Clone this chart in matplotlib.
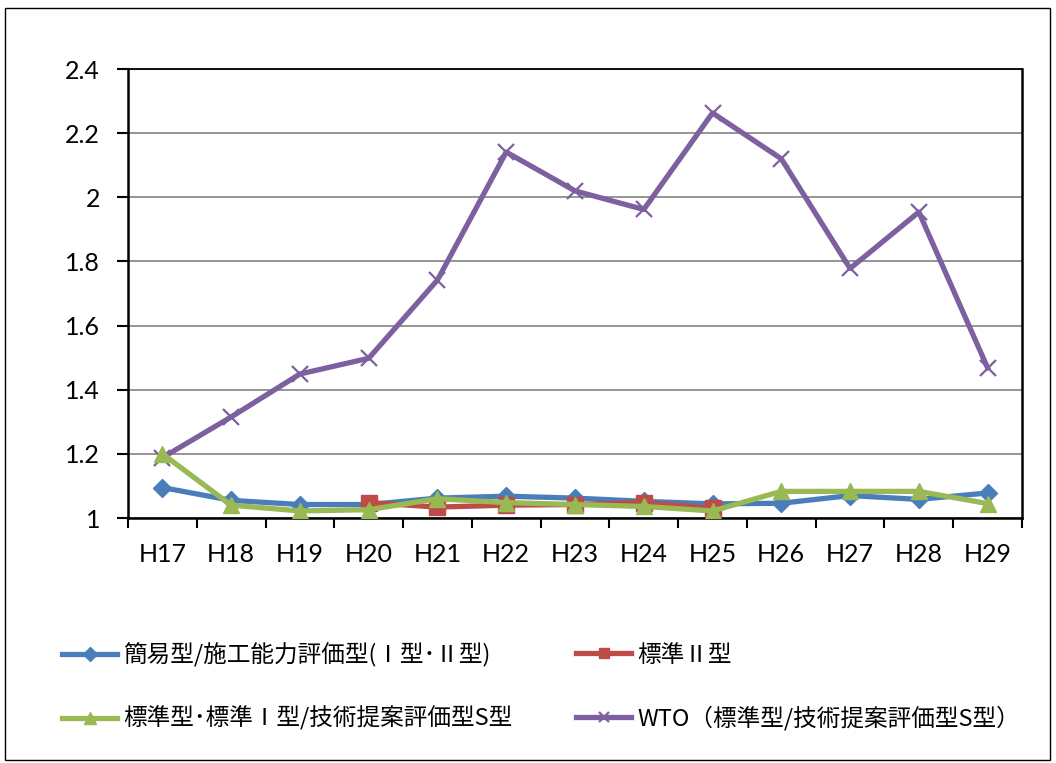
import numpy as np
import matplotlib
matplotlib.use("Agg")
import matplotlib.pyplot as plt
from matplotlib.patches import Rectangle

plt.rcParams['font.family'] = ['Noto Sans CJK JP', 'DejaVu Sans']

years = ["H17", "H18", "H19", "H20", "H21", "H22", "H23",
         "H24", "H25", "H26", "H27", "H28", "H29"]

simple = [1.095, 1.055, 1.042, 1.042, 1.062, 1.068, 1.062,
          1.052, 1.044, 1.046, 1.070, 1.058, 1.078]
standard2 = [np.nan, np.nan, np.nan, 1.048, 1.034, 1.040, 1.042,
             1.048, 1.030, np.nan, np.nan, np.nan, np.nan]
standard = [1.200, 1.040, 1.022, 1.026, 1.060, 1.048, 1.042,
            1.036, 1.022, 1.083, 1.083, 1.083, 1.045]
wto = [1.188, 1.315, 1.449, 1.498, 1.742, 2.141, 2.020,
       1.962, 2.263, 2.120, 1.778, 1.954, 1.468]

labels = ["簡易型/施工能力評価型(Ⅰ型･Ⅱ型)", "標準Ⅱ型",
          "標準型･標準Ⅰ型/技術提案評価型S型", "WTO（標準型/技術提案評価型S型）"]
colors = ["#4A7EBB", "#BE4B48", "#98B954", "#7D60A0"]

W, H = 1056, 763
fig = plt.figure(figsize=(W / 100, H / 100), dpi=100)
fig.patches.append(Rectangle((5 / W, 3 / H), 1045 / W, 752 / H,
                             transform=fig.transFigure, fill=False,
                             edgecolor="black", linewidth=1.0))

ax = fig.add_axes([128 / W, 1 - 518 / H, (1022 - 128) / W, (518 - 69) / H])
x = np.arange(len(years))

lw = 3.8
h_wto, = ax.plot(x, wto, color=colors[3], lw=lw, marker="x", ms=11,
                 mew=1.6, zorder=3)
h_simple, = ax.plot(x, simple, color=colors[0], lw=lw, marker="D", ms=9.5,
                    zorder=4)
h_std2, = ax.plot(x, standard2, color=colors[1], lw=lw, marker="s", ms=11,
                  zorder=5)
h_std, = ax.plot(x, standard, color=colors[2], lw=lw, marker="^", ms=12,
                 zorder=6)

ax.set_xlim(-0.5, len(years) - 0.5)
ax.set_ylim(1.0, 2.4)
ax.set_yticks(np.arange(1.0, 2.41, 0.2))
ax.set_yticklabels(["1", "1.2", "1.4", "1.6", "1.8", "2", "2.2", "2.4"])
ax.set_xticks(x)
ax.set_xticklabels(years)
ax.set_xticks(np.arange(-0.5, len(years), 1.0), minor=True)
ax.tick_params(axis="x", which="major", length=0, pad=18, labelsize=18)
ax.tick_params(axis="x", which="minor", length=7, width=1.5, direction="out")
ax.tick_params(axis="y", length=8, width=1.5, direction="out", pad=12,
               labelsize=18)
for lbl in ax.get_xticklabels() + ax.get_yticklabels():
    lbl.set_family(["Lato", "DejaVu Sans"])

ax.grid(axis="y", color="#8C8C8C", lw=1.3)
ax.set_axisbelow(True)
for side in ["left", "bottom", "right"]:
    ax.spines[side].set_linewidth(1.8)
ax.spines["top"].set_linewidth(1.3)

legend_kw = dict(loc="center left", frameon=False, fontsize=17,
                 handlelength=2.35, handletextpad=0.25, labelspacing=1.65,
                 markerscale=0.7, borderpad=0, borderaxespad=0)
leg1 = fig.legend([h_simple, h_std], [labels[0], labels[2]],
                  bbox_to_anchor=(62 / W, 1 - 687 / H), **legend_kw)
leg2 = fig.legend([h_std2, h_wto], [labels[1], labels[3]],
                  bbox_to_anchor=(576 / W, 1 - 687 / H), **legend_kw)

fig.savefig("out.png", dpi=100)
